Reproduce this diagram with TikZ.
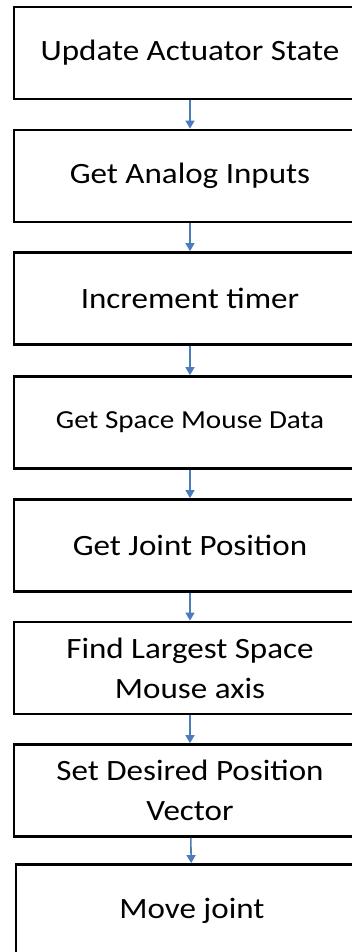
\documentclass[tikz,border=0pt]{standalone}
\usepackage{fontspec}
\setmainfont{Carlito}[FakeStretch=1.12]
\usetikzlibrary{arrows.meta}
\definecolor{arrowblue}{HTML}{4A7EBB}
\tikzset{stepbox/.style={rectangle,draw,line width=2.8pt,minimum width=352pt,
  minimum height=92pt,align=center,font=\fontsize{29.5}{40}\selectfont},
  flow/.style={color=arrowblue,line width=1.6pt,-{Triangle[length=8pt,width=9pt]}}}
\begin{document}
\begin{tikzpicture}[x=1pt,y=1pt]
            \path[use as bounding box,clip] (0,0) rectangle (352,-952);
            \draw (190,-53) node[stepbox] (U) {Update Actuator State};
            \draw (190,-176) node[stepbox] (A) {Get Analog Inputs};
            \draw (190,-298.5) node[stepbox] (T) {Increment timer};
            \draw (190,-422.5) node[stepbox,
            font=\fontsize{26}{36}\selectfont] (S) {Get Space Mouse Data};
            \draw (190,-545.5) node[stepbox] (J) {Get Joint Position};
            \draw (190,-668) node[stepbox] (L) {Find Largest Space\\Mouse axis};
            \draw (190,-790.5) node[stepbox] (V) {Set Desired Position\\Vector};
            \draw (192,-910.5) node[stepbox] (M) {Move joint};
            \draw[flow] (U)--(A);
            \draw[flow] (A)--(T);
            \draw[flow] (T)--(S);
            \draw[flow] (S)--(J);
            \draw[flow] (J)--(L);
            \draw[flow] (L)--(V);
            \draw[flow] (V)--(M);
\end{tikzpicture}
\end{document}
